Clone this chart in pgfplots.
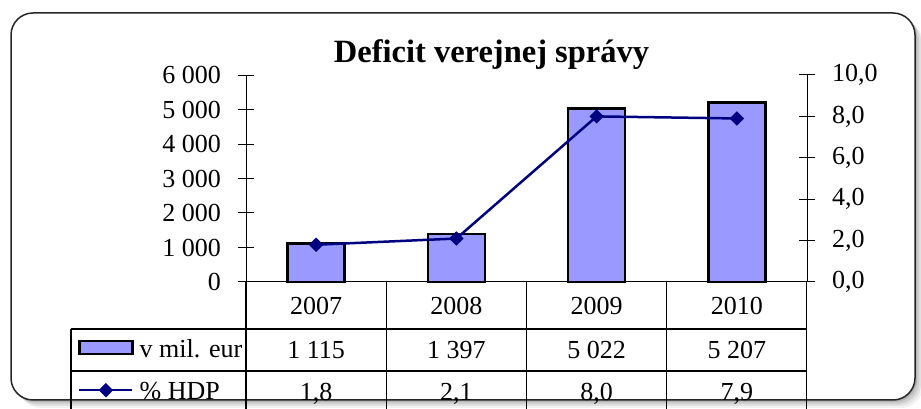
\documentclass[border=0pt]{standalone}
\usepackage{fontspec}
\setmainfont{Liberation Serif}
\usepackage{pgfplots}
\pgfplotsset{compat=1.18}
\definecolor{barfill}{HTML}{9999FF}
\definecolor{navyline}{HTML}{000080}
\pgfplotsset{
 barlegend/.style={legend image code/.code={\draw[##1] (0pt,-6.5pt) rectangle (53pt,6.5pt);}},
 linelegend/.style={legend image code/.code={\draw[mark repeat=2,mark phase=2,##1] plot coordinates {(0pt,0pt) (26.5pt,0pt) (53pt,0pt)};}},
 common/.style={
   at={(246pt,127pt)}, anchor=south west,
   scale only axis, width=561pt, height=207pt,
   xmin=-0.5, xmax=3.5,
   axis line style={-, line width=1pt, black},
   tick align=center, major tick length=16pt,
   tick style={black, line width=1pt},
   clip=false,
 },
}
\newcommand{\tf}{\fontsize{26}{26}\selectfont}
\begin{document}
\begin{tikzpicture}[x=1pt,y=1pt]
\useasboundingbox (0,0) rectangle (921,409);
\clip (0,0) rectangle (921,409);
% shadow
\foreach \o/\a in {8/0.05,6/0.07,4/0.09,2/0.12}{
  \fill[black,opacity=\a,rounded corners=22pt] (11+\o,9-\o) rectangle (915+\o,396-\o);
}
\draw[line width=1.5pt, black!85, fill=white, rounded corners=22pt] (11,9) rectangle (915,396);
% title
\node[anchor=base, font=\fontsize{32.5}{32.5}\selectfont\bfseries] at (491.5,346) {Deficit verejnej správy};

\begin{axis}[common,
  ymin=0, ymax=6000,
  axis y line*=left, axis x line*=bottom,
  xtick=\empty,
  ytick={0,1000,...,6000},
  yticklabels={0,1 000,2 000,3 000,4 000,5 000,6 000},
  yticklabel style={font=\tf, inner sep=0pt, xshift=-17pt},
]
\addplot[ybar, bar width=57pt, fill=barfill, draw=black, line width=2.5pt] coordinates {(0,1115) (1,1397) (2,5022) (3,5207)};
\end{axis}

\begin{axis}[common,
  ymin=0, ymax=10,
  axis y line*=right, axis x line=none,
  ytick={0,2,...,10},
  yticklabels={{0,0},{2,0},{4,0},{6,0},{8,0},{10,0}},
  yticklabel style={font=\tf, inner sep=0pt, xshift=17pt},
  legend style={at={(axis description cs:-0.2995,-0.2609)}, anchor=north west,
    draw=none, fill=none, inner sep=0pt, row sep=19.5pt, column sep=6pt,
    font=\tf, nodes={inner sep=0pt, text height=21pt, text depth=2pt}},
  legend cell align=left,
]
\addlegendimage{barlegend, fill=barfill, draw=black, line width=2.5pt}
\addlegendentry{v mil. eur}
\addplot[linelegend, navyline, line width=2.5pt, mark=square*, mark size=4.6pt, mark options={rotate=45, solid, line width=1pt}] coordinates {(0,1.8) (1,2.1) (2,8.0) (3,7.9)};
\addlegendentry{\% HDP}
\end{axis}

% data table grid
\begin{scope}[line width=1.3pt, black]
\draw (71,80) -- (806.7,80);
\draw (71,38) -- (806.7,38);
\draw (71,80) -- (71,-2);
\foreach \x in {246,386.2,526.5,666.7,806.7} \draw (\x,127) -- (\x,-2);
\end{scope}
% table text
\foreach \x/\y/\v/\p in {316.1/2007/1 115/{1,8},456.3/2008/1 397/{2,1},596.6/2009/5 022/{8,0},736.8/2010/5 207/{7,9}}{
  \node[anchor=base, font=\tf, inner sep=0pt] at (\x,94) {\y};
  \node[anchor=base, font=\tf, inner sep=0pt] at (\x,50) {\v};
  \node[anchor=base, font=\tf, inner sep=0pt] at (\x,8) {\p};
}
\end{tikzpicture}
\end{document}
